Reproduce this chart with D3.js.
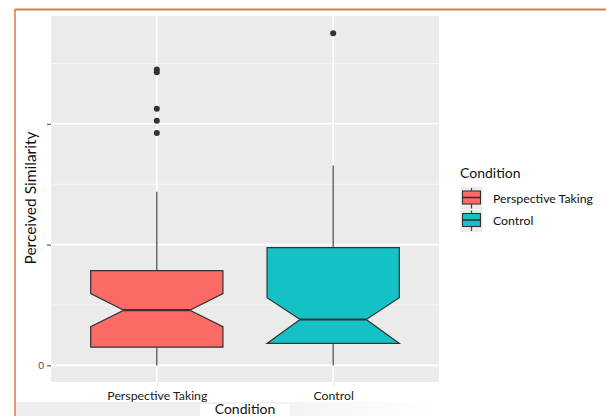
<!DOCTYPE html>
<html>
<head>
<meta charset="utf-8">
<script src="https://cdn.jsdelivr.net/npm/d3@7"></script>
<style>
  html, body { margin: 0; padding: 0; background: #fff; }
  svg { display: block; }
  text { font-family: Lato, "Open Sans", sans-serif; }
</style>
</head>
<body>
<svg id="chart" width="606" height="416"></svg>
<script>
// ---- data ----
const categories = ["Perspective Taking", "Control"];
const whiskerLow  = [0, 0];
const q1          = [0.151, 0.182];
const notchLow    = [0.320, 0.182];
const medians     = [0.457, 0.380];
const notchHigh   = [0.595, 0.560];
const q3          = [0.785, 0.975];
const whiskerHigh = [1.438, 1.655];
const outliersPT      = [2.450, 2.426, 2.124, 2.025, 1.923];
const outliersControl = [2.750];
const outliers = [outliersPT, outliersControl];
const yMajorTicks = [0, 1, 2];
const yMajorLabels = ["0", "", ""];
const yMinorTicks = [0.5, 1.5, 2.5];
const colors = ["#f96b64", "#14c2c6"];
const xTitle = "Condition";
const yTitle = "Perceived Similarity";
const legendTitle = "Condition";

// ---- layout ----
const svg = d3.select("#chart");
const panel = { left: 51, right: 439, top: 16, bottom: 382 };

const x = d3.scalePoint().domain(categories).range([panel.left, panel.right]).padding(0.6);
const yMin = -0.1376, yMax = 2.8926;
const y = d3.scaleLinear().domain([yMin, yMax]).range([panel.bottom, panel.top]);

// orange screenshot frame
svg.append("line").attr("x1", 15).attr("x2", 606).attr("y1", 9.5).attr("y2", 9.5)
  .attr("stroke", "#f3d9c8").attr("stroke-width", 3);
svg.append("line").attr("x1", 15).attr("x2", 606).attr("y1", 9.5).attr("y2", 9.5)
  .attr("stroke", "#d9783f").attr("stroke-width", 1.5);
svg.append("line").attr("x1", 15).attr("x2", 15).attr("y1", 9).attr("y2", 416)
  .attr("stroke", "#d9783f").attr("stroke-width", 1.5);

// panel
svg.append("rect").attr("x", panel.left).attr("y", panel.top)
  .attr("width", panel.right - panel.left).attr("height", panel.bottom - panel.top)
  .attr("fill", "#ebebeb");

const g = svg.append("g");
g.selectAll("line.minor").data(yMinorTicks).join("line")
  .attr("x1", panel.left).attr("x2", panel.right)
  .attr("y1", d => y(d)).attr("y2", d => y(d))
  .attr("stroke", "#fafafa").attr("stroke-width", 0.8);
g.selectAll("line.major").data(yMajorTicks).join("line")
  .attr("x1", panel.left).attr("x2", panel.right)
  .attr("y1", d => y(d)).attr("y2", d => y(d))
  .attr("stroke", "#ffffff").attr("stroke-width", 1.6);
g.selectAll("line.vmajor").data(categories).join("line")
  .attr("x1", d => x(d)).attr("x2", d => x(d))
  .attr("y1", panel.top).attr("y2", panel.bottom)
  .attr("stroke", "#ffffff").attr("stroke-width", 1.6);

// y axis ticks (d3 axis)
const yAxis = d3.axisLeft(y).tickValues(yMajorTicks).tickSize(4).tickPadding(3)
  .tickFormat((d, i) => yMajorLabels[i]);
const ya = svg.append("g").attr("transform", `translate(${panel.left},0)`).call(yAxis);
ya.select(".domain").remove();
ya.selectAll(".tick line").attr("stroke", "#444").attr("stroke-width", 1);
ya.selectAll(".tick text").attr("fill", "#4d4d4d").style("font-size", "10px")
  .style("font-family", "Lato, sans-serif");

// boxes
const step = x.step();
const bw = step * 0.75;
const boxes = svg.append("g");
categories.forEach((c, i) => {
  const cx = x(c);
  const xmin = cx - bw / 2, xmax = cx + bw / 2;
  const nIn = bw * 0.25;
  // whiskers
  boxes.append("line").attr("x1", cx).attr("x2", cx)
    .attr("y1", y(q3[i])).attr("y2", y(whiskerHigh[i]))
    .attr("stroke", "#444").attr("stroke-width", 1.2);
  boxes.append("line").attr("x1", cx).attr("x2", cx)
    .attr("y1", y(q1[i])).attr("y2", y(whiskerLow[i]))
    .attr("stroke", "#444").attr("stroke-width", 1.2);
  const pts = [
    [xmin, y(q3[i])], [xmin, y(notchHigh[i])], [xmin + nIn, y(medians[i])],
    [xmin, y(notchLow[i])], [xmin, y(q1[i])], [xmax, y(q1[i])],
    [xmax, y(notchLow[i])], [xmax - nIn, y(medians[i])], [xmax, y(notchHigh[i])],
    [xmax, y(q3[i])]
  ];
  boxes.append("polygon").attr("points", pts.map(p => p.join(",")).join(" "))
    .attr("fill", colors[i]).attr("stroke", "#333").attr("stroke-width", 1.2)
    .attr("stroke-linejoin", "miter");
  boxes.append("line").attr("x1", xmin + nIn).attr("x2", xmax - nIn)
    .attr("y1", y(medians[i])).attr("y2", y(medians[i]))
    .attr("stroke", "#333").attr("stroke-width", 2.2);
  boxes.selectAll(null).data(outliers[i]).join("circle")
    .attr("cx", cx).attr("cy", d => y(d)).attr("r", 3)
    .attr("fill", "#333");
});

// x axis ticks + labels
const xAxis = d3.axisBottom(x).tickSize(4).tickPadding(5);
const xa = svg.append("g").attr("transform", `translate(0,${panel.bottom})`).call(xAxis);
xa.select(".domain").remove();
xa.selectAll(".tick line").attr("stroke", "#e6e6e6").attr("stroke-width", 1);
xa.selectAll(".tick text").attr("fill", "#1a1a1a").style("font-size", "12.3px")
  .style("font-family", "Lato, sans-serif");

// bottom screenshot band
const defs = svg.append("defs");
const grad = defs.append("linearGradient").attr("id", "band").attr("x1", "0").attr("x2", "1");
grad.append("stop").attr("offset", "0").attr("stop-color", "#eeeeee");
grad.append("stop").attr("offset", "0.55").attr("stop-color", "#f0f0f0");
grad.append("stop").attr("offset", "1").attr("stop-color", "#ffffff");
svg.append("rect").attr("x", 16).attr("y", 402).attr("width", 420).attr("height", 14)
  .attr("fill", "url(#band)");
svg.append("rect").attr("x", 200).attr("y", 404).attr("width", 90).attr("height", 12)
  .attr("fill", "#ffffff");

// titles
svg.append("text").attr("x", (panel.left + panel.right) / 2).attr("y", 414)
  .attr("text-anchor", "middle").style("font-size", "14px").attr("fill", "#111")
  .text(xTitle);
svg.append("text").attr("transform", `translate(36,${(panel.top + panel.bottom) / 2 - 1}) rotate(-90)`)
  .attr("text-anchor", "middle").style("font-size", "15.5px").attr("fill", "#111")
  .text(yTitle);

// legend
const lg = svg.append("g").attr("transform", "translate(460,0)");
lg.append("text").attr("x", 0).attr("y", 178).style("font-size", "14px").attr("fill", "#111")
  .text(legendTitle);
categories.forEach((c, i) => {
  const top = 187 + i * 22.5;
  lg.append("rect").attr("x", 0.5).attr("y", top).attr("width", 22).attr("height", 22.5)
    .attr("fill", "#ebebeb");
  lg.append("line").attr("x1", 11.5).attr("x2", 11.5).attr("y1", top + 1).attr("y2", top + 21.5)
    .attr("stroke", "#444").attr("stroke-width", 1.2);
  lg.append("rect").attr("x", 2.5).attr("y", top + 4).attr("width", 18).attr("height", 13)
    .attr("fill", colors[i]).attr("stroke", "#333").attr("stroke-width", 1.1);
  lg.append("line").attr("x1", 2.5).attr("x2", 20.5).attr("y1", top + 10.5).attr("y2", top + 10.5)
    .attr("stroke", "#333").attr("stroke-width", 1.6);
  lg.append("text").attr("x", 33).attr("y", top + 15.5).style("font-size", "12.3px")
    .attr("fill", "#111").text(c);
});
</script>
</body>
</html>
